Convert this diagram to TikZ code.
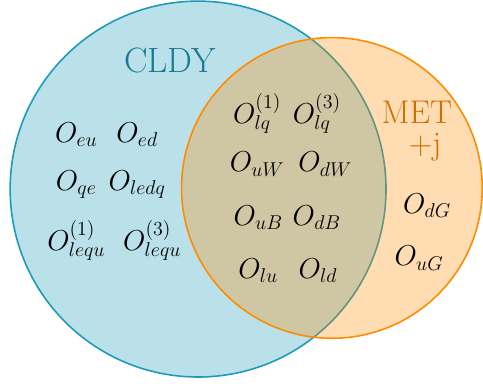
\documentclass[tikz,border=0pt]{standalone}
\usepackage{tikz}
\definecolor{cldyblue}{RGB}{28,155,185}
\definecolor{metorange}{RGB}{255,140,0}
\tikzset{
  set/.style= {line width=1.2pt, fill opacity=0.3},
  op/.style= {font=\huge, scale=1.05},
  title/.style= {font=\Huge, scale=1.07},
  metlabel/.style= {font=\Huge, inner sep=0pt, text=metorange!80!black},
}

\begin{document}
\begin{tikzpicture}
  \useasboundingbox (-5.27,-5.16) rectangle (7.58,5.03);
  \draw [set, draw=cldyblue, fill=cldyblue] (0,0) circle (5);
  \draw [set, draw=metorange, fill=metorange] (3.56,0.03) circle (4);

  \node [title, text=cldyblue!80!black] (cldy) at (-0.74,3.43) {CLDY};
  \node [metlabel] (met) at (5.82,2.05) {MET};
  \node [metlabel] (jet) at (6.04,1.12) {+j};

  % CLDY only
  \node [op] (eu) at (-3.24,1.44) {$O_{eu}$};
  \node [op] (ed) at (-1.62,1.44) {$O_{ed}$};
  \node [op] (qe) at (-3.24,0.11) {$O_{qe}$};
  \node [op] (ledq) at (-1.62,0.11) {$O_{ledq}$};
  \node [op] (lequa) at (-3.24,-1.36) {$O_{lequ}^{(1)}$};
  \node [op] (lequc) at (-1.22,-1.36) {$O_{lequ}^{(3)}$};

  % both
  \node [op] (lqa) at (1.57,2.02) {$O_{lq}^{(1)}$};
  \node [op] (lqc) at (3.16,2.02) {$O_{lq}^{(3)}$};
  \node [op] (uw) at (1.57,0.66) {$O_{uW}$};
  \node [op] (dw) at (3.38,0.66) {$O_{dW}$};
  \node [op] (ub) at (1.60,-0.77) {$O_{uB}$};
  \node [op] (db) at (3.16,-0.77) {$O_{dB}$};
  \node [op] (lu) at (1.60,-2.18) {$O_{lu}$};
  \node [op] (ld) at (3.19,-2.18) {$O_{ld}$};

  % MET+j only
  \node [op] (dg) at (6.09,-0.45) {$O_{dG}$};
  \node [op] (ug) at (5.88,-1.84) {$O_{uG}$};
\end{tikzpicture}
\end{document}
